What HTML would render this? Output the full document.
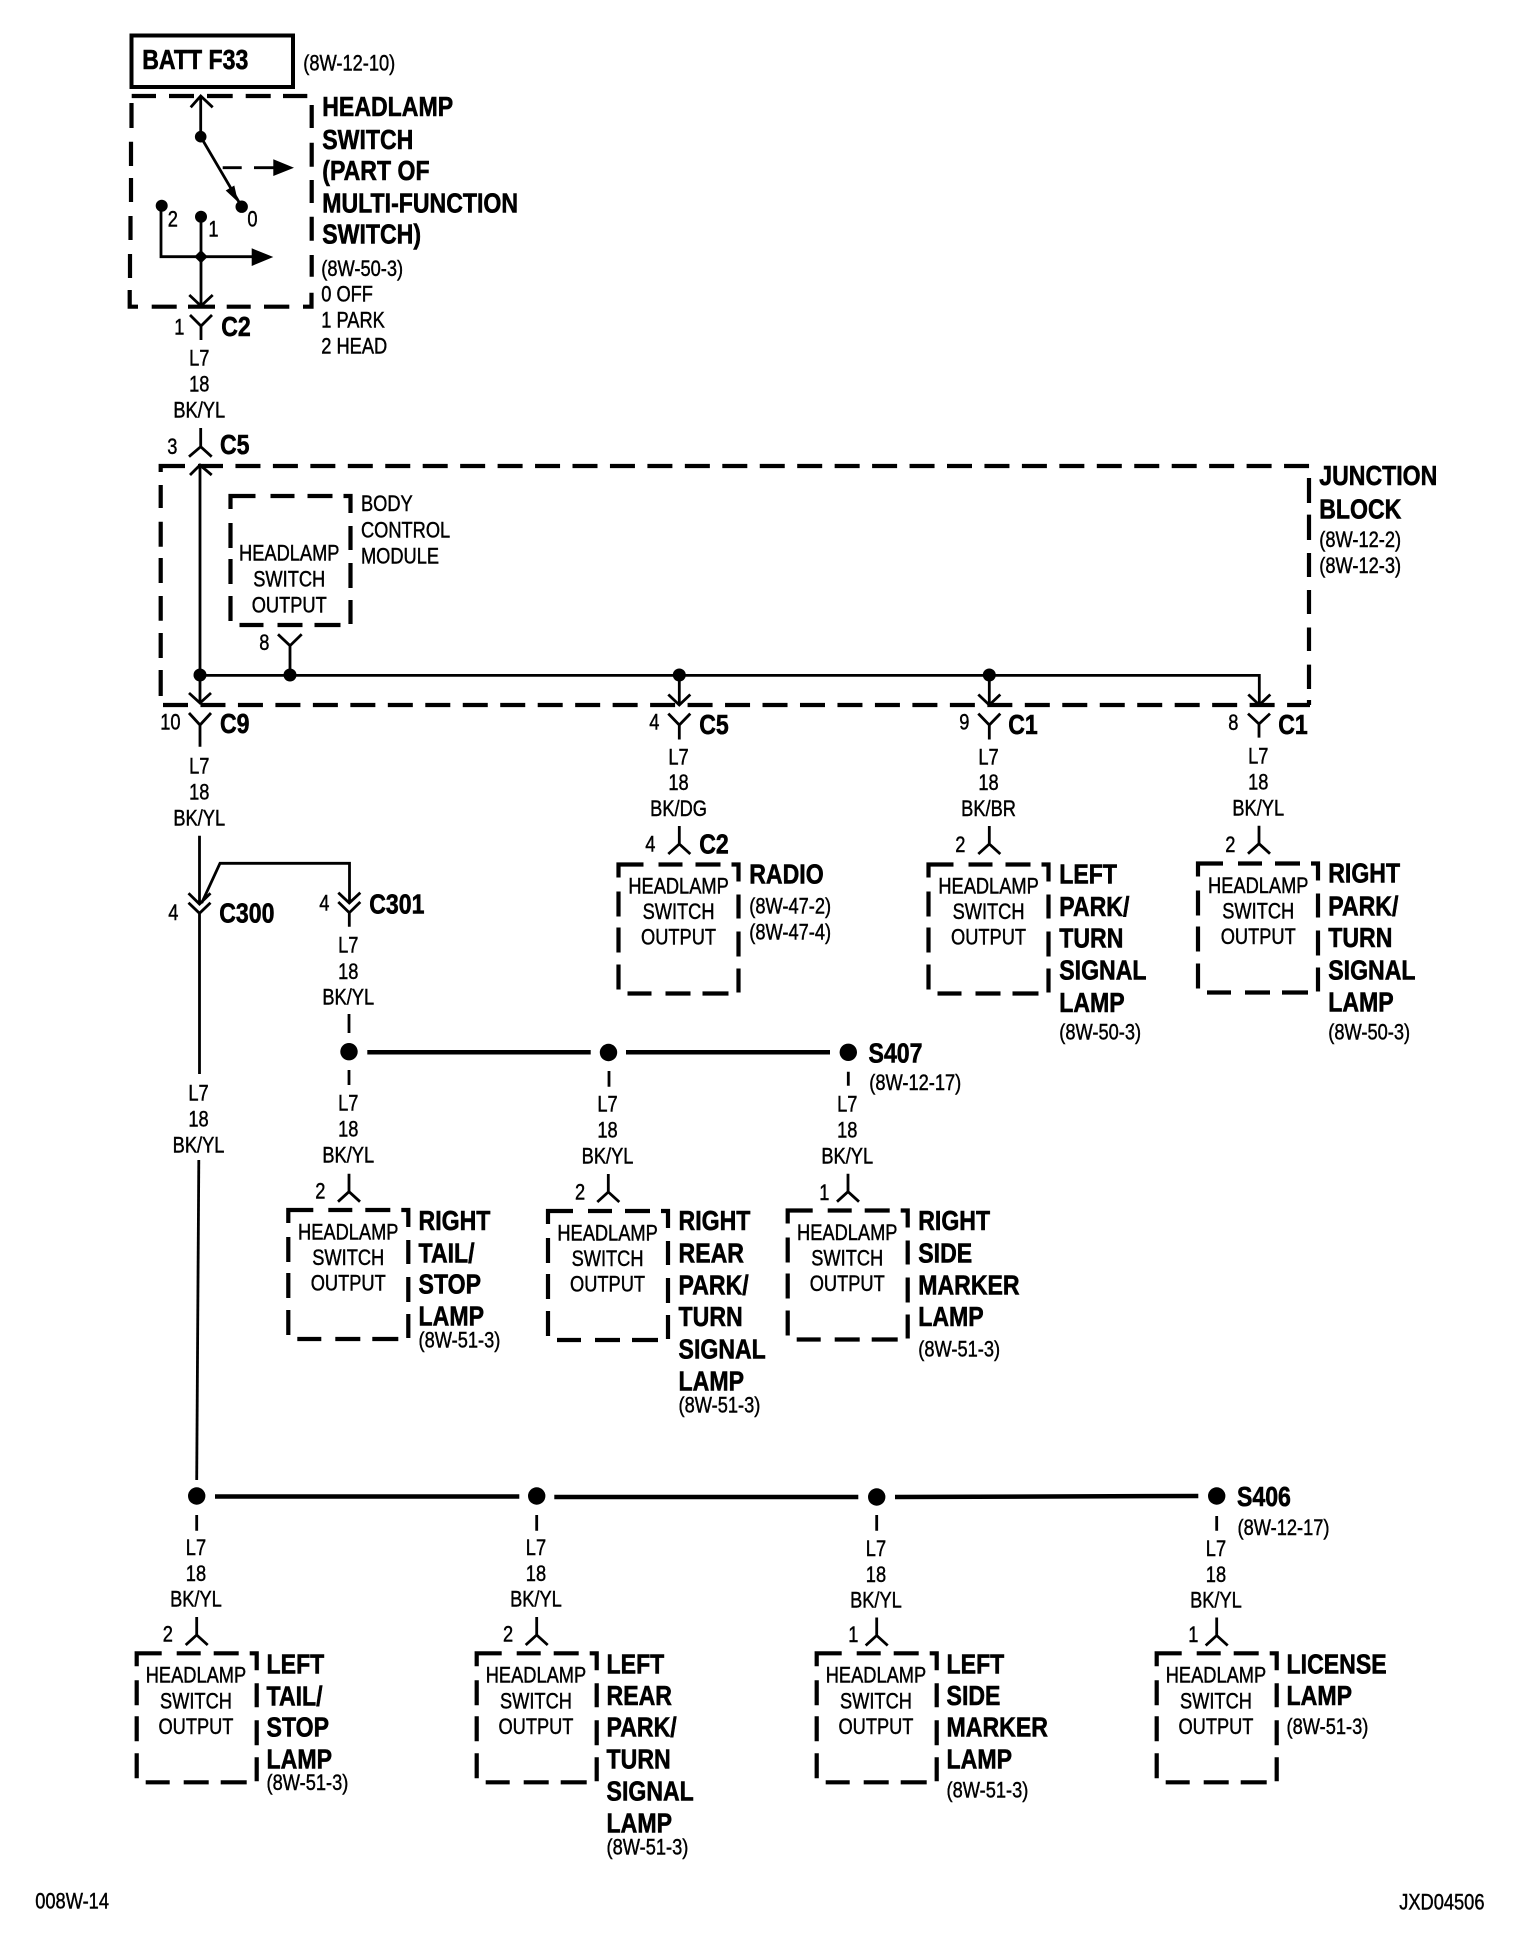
<!DOCTYPE html>
<html>
<head>
<meta charset="utf-8">
<title>Headlamp Switch Output Wiring Diagram</title>
<style>
html,body{margin:0;padding:0;background:#fff}
svg{display:block}
text{fill:#000;stroke:#000;transform:translateX(-.9px)}
.r{font-family:"Liberation Sans",sans-serif;font-size:22px;stroke-width:.45px}
.b{font-family:"Liberation Sans",sans-serif;font-size:28px;font-weight:bold;stroke-width:.6px}
.c{text-anchor:middle}
.w{fill:none;stroke:#000;stroke-width:2.8}
.h{fill:none;stroke:#000;stroke-width:4.5}
.d{fill:none;stroke:#000;stroke-width:4.2}
</style>
</head>
<body>
<svg xmlns="http://www.w3.org/2000/svg" width="1536" height="1936" viewBox="0 0 1536 1936">
<defs>
<path id="box" class="d" d="M-60,13V0H-35M-20,0H4M17,0H42M53,0H60V17M60,30V54M60,67V92M60,104V128M-51,129H-27M-13,129H12M24,129H50M-60,27V52M-60,63V88M-60,100V125"/>
<path id="conn" class="w" d="M0,-18V0M-11,10L0,0L11,10"/>
</defs>
<rect width="1536" height="1936" fill="#fff"/>

<!-- BATT -->
<rect x="131.5" y="35.5" width="161.5" height="51.5" fill="none" stroke="#000" stroke-width="4"/>
<g class="b" transform="translate(143,0) scale(.825,1)"><text y="69">BATT F33</text></g>
<g class="r" transform="translate(304,0) scale(.83,1)"><text y="70.7">(8W-12-10)</text></g>

<!-- Switch -->
<path class="d" d="M131.7,96H156M169,96H194M207,96H232.7M245.7,96H270.7M283,96H307.3M131.5,103V128M131,141.7V166M131,178V202M130.5,216V240M130,254V278M129.7,290V306.7H138M151.7,306.7H176.7M188,306.7H215M226.7,306.7H250.7M264,306.7H289.3M303,306.7H311.5V292.7M311.7,276.7V255M311.7,240.7V216.7M311.7,203V180M311.7,166.7V142.7M311.7,128V105"/>
<path class="w" d="M190.7,107.3L200.7,96L212.7,107.3M200.7,96V136.7L241.7,206.7M222.7,167.7H241.7M254,167.7H275M161,205.7V256.7H255M201,216.7V306M189.3,295L201,306L212.7,295"/>
<circle cx="200.7" cy="136.7" r="5.8"/><circle cx="241.7" cy="206.7" r="6.2"/><circle cx="161.7" cy="205.7" r="6"/><circle cx="201" cy="216.7" r="6"/>
<path d="M201,250L207.7,256.7L201,263.4L194.3,256.7Z"/>
<path d="M238,202L225.7,190.5L234.3,185.5Z"/>
<path d="M273.3,159.3L294,167.7L273.3,176ZM251.7,248.3L273.3,257L251.7,266Z"/>
<g class="r" transform="scale(.83,1)"><text x="203" y="226.7">2</text><text x="252" y="236.7">1</text><text x="299" y="226.7">0</text></g>
<g class="b" transform="translate(323,0) scale(.825,1)"><text y="116">HEADLAMP</text><text y="149">SWITCH</text><text y="180">(PART OF</text><text y="212.7">MULTI-FUNCTION</text><text y="243.3">SWITCH)</text></g>
<g class="r" transform="translate(322,0) scale(.83,1)"><text y="276">(8W-50-3)</text><text y="301.7">0 OFF</text><text y="327.7">1 PARK</text><text y="353.3">2 HEAD</text></g>

<!-- C2 top -->
<path class="w" d="M190,315L201,326L212,315M201,326V340"/>
<g class="r" transform="translate(175,0) scale(.83,1)"><text y="334.3">1</text></g>
<g class="b" transform="translate(222,0) scale(.825,1)"><text y="336">C2</text></g>
<g class="r c" transform="translate(200,0) scale(.83,1)"><text y="365.7">L7</text><text y="391.7">18</text><text y="417.3">BK/YL</text></g>

<!-- C5 top -->
<path class="w" d="M200.7,428V446.7M189,456.7L200.7,446.7L211.7,456.7"/>
<g class="r" transform="translate(168,0) scale(.83,1)"><text y="454">3</text></g>
<g class="b" transform="translate(220.7,0) scale(.825,1)"><text y="454">C5</text></g>

<!-- Junction block -->
<path class="d" stroke-dasharray="25 12.45" d="M198,466H1310"/>
<path class="d" d="M185,466H160.7V472M160.7,485V508M160.7,521.7V546.7M160.7,558V583M160.7,596V620.7M160.7,633V658M160.7,670V696"/>
<path class="d" stroke-dasharray="25 12.47" d="M163,705H1310"/>
<path class="d" d="M1309,478V503M1309,514.6V540M1309,553V577M1309,590V614M1309,627.5V651M1309,664.6V689M1309,700V705"/>
<g class="b" transform="translate(1320,0) scale(.825,1)"><text y="485">JUNCTION</text><text y="518.5">BLOCK</text></g>
<g class="r" transform="translate(1320,0) scale(.83,1)"><text y="547">(8W-12-2)</text><text y="573">(8W-12-3)</text></g>

<!-- Bus in junction -->
<path class="w" d="M190,475L200,465L211.7,475M200,465V703M189,693L200,703L211,693M200,675.4H1259.3V704M668.3,694.5L679.3,705L690.3,694.5M679.3,675V705M978.3,694.5L989.3,705L1000.3,694.5M989.3,675V705M1248.3,694.5L1259.3,705L1270.3,694.5"/>
<circle cx="200" cy="675" r="6.5"/><circle cx="290" cy="675" r="6.5"/><circle cx="679.3" cy="675" r="6.5"/><circle cx="989.3" cy="675" r="6.5"/>

<!-- BCM -->
<use href="#box" x="290.5" y="496"/>
<g class="r c" transform="translate(290,0) scale(.83,1)"><text y="560.7">HEADLAMP</text><text y="586.7">SWITCH</text><text y="612.7">OUTPUT</text></g>
<g class="r" transform="translate(361.7,0) scale(.83,1)"><text y="511">BODY</text><text y="537.3">CONTROL</text><text y="563.3">MODULE</text></g>
<path class="w" d="M278,634.3L290,645.7L301.7,634.3M290,645.7V675"/>
<g class="r" transform="translate(260,0) scale(.83,1)"><text y="650">8</text></g>

<!-- C9 -->
<path class="w" d="M189,713L200,725L211,713M200,725V746.7"/>
<g class="r" transform="translate(161,0) scale(.83,1)"><text y="729.3">10</text></g>
<g class="b" transform="translate(220.7,0) scale(.825,1)"><text y="733">C9</text></g>
<g class="r c" transform="translate(200,0) scale(.83,1)"><text y="773.3">L7</text><text y="799.3">18</text><text y="825.7">BK/YL</text></g>

<!-- C5 / C2 Radio -->
<path class="w" d="M668.3,713.6L679.3,725L690.3,713.6M679.3,725V739.5"/>
<g class="r" transform="translate(650,0) scale(.83,1)"><text y="729.7">4</text></g>
<g class="b" transform="translate(700,0) scale(.825,1)"><text y="734">C5</text></g>
<g class="r c" transform="translate(679.3,0) scale(.83,1)"><text y="764.5">L7</text><text y="790">18</text><text y="816">BK/DG</text></g>
<use href="#conn" x="679.3" y="844"/>
<g class="r" transform="translate(646,0) scale(.83,1)"><text y="851.5">4</text></g>
<g class="b" transform="translate(700,0) scale(.825,1)"><text y="853.5">C2</text></g>
<use href="#box" x="678.5" y="864.5"/>
<g class="r c" transform="translate(679.3,0) scale(.83,1)"><text y="893.5">HEADLAMP</text><text y="919">SWITCH</text><text y="944.5">OUTPUT</text></g>
<g class="b" transform="translate(750,0) scale(.825,1)"><text y="883.5">RADIO</text></g>
<g class="r" transform="translate(750,0) scale(.83,1)"><text y="913.6">(8W-47-2)</text><text y="939.6">(8W-47-4)</text></g>

<!-- C1 / Left Park -->
<path class="w" d="M978.3,713.6L989.3,725L1000.3,713.6M989.3,725V739.5"/>
<g class="r" transform="translate(960,0) scale(.83,1)"><text y="729.7">9</text></g>
<g class="b" transform="translate(1009,0) scale(.825,1)"><text y="734">C1</text></g>
<g class="r c" transform="translate(989.3,0) scale(.83,1)"><text y="764.5">L7</text><text y="790">18</text><text y="816">BK/BR</text></g>
<use href="#conn" x="989.3" y="844"/>
<g class="r" transform="translate(956,0) scale(.83,1)"><text y="852">2</text></g>
<use href="#box" x="988.5" y="864.5"/>
<g class="r c" transform="translate(989.3,0) scale(.83,1)"><text y="893.5">HEADLAMP</text><text y="919">SWITCH</text><text y="944.5">OUTPUT</text></g>
<g class="b" transform="translate(1060,0) scale(.825,1)"><text y="883.5">LEFT</text><text y="916">PARK/</text><text y="947.5">TURN</text><text y="979.6">SIGNAL</text><text y="1012">LAMP</text></g>
<g class="r" transform="translate(1060,0) scale(.83,1)"><text y="1039.5">(8W-50-3)</text></g>

<!-- C1 / Right Park -->
<path class="w" d="M1248,713.6L1259,724L1270,713.6M1259,724V737.6"/>
<g class="r" transform="translate(1229,0) scale(.83,1)"><text y="730">8</text></g>
<g class="b" transform="translate(1279,0) scale(.825,1)"><text y="734">C1</text></g>
<g class="r c" transform="translate(1259,0) scale(.83,1)"><text y="763.4">L7</text><text y="789.5">18</text><text y="815.5">BK/YL</text></g>
<use href="#conn" x="1259" y="843.7"/>
<g class="r" transform="translate(1226,0) scale(.83,1)"><text y="852">2</text></g>
<use href="#box" x="1258" y="863.5"/>
<g class="r c" transform="translate(1259,0) scale(.83,1)"><text y="893">HEADLAMP</text><text y="918.5">SWITCH</text><text y="944">OUTPUT</text></g>
<g class="b" transform="translate(1329,0) scale(.825,1)"><text y="882.5">RIGHT</text><text y="915.5">PARK/</text><text y="947">TURN</text><text y="979.6">SIGNAL</text><text y="1011.5">LAMP</text></g>
<g class="r" transform="translate(1329,0) scale(.83,1)"><text y="1039.5">(8W-50-3)</text></g>

<!-- C300 / C301 -->
<path class="w" d="M199.5,835.7V904M201.7,903L220,863.3H349.5V903M188.5,893.3L199.5,904L210.5,893.3M188.5,902.7L199.5,913.3L210.5,902.7M199.5,913.3V1074M338.3,892.7L349.3,903L360.3,892.7M338.3,902L349.3,912.7L360.3,902M349.3,912.7V926.7"/>
<g class="r" transform="translate(169,0) scale(.83,1)"><text y="920">4</text></g>
<g class="b" transform="translate(220,0) scale(.825,1)"><text y="922.3">C300</text></g>
<g class="r" transform="translate(320,0) scale(.83,1)"><text y="910.7">4</text></g>
<g class="b" transform="translate(370,0) scale(.825,1)"><text y="913.3">C301</text></g>
<g class="r c" transform="translate(349,0) scale(.83,1)"><text y="952.7">L7</text><text y="979">18</text><text y="1004.3">BK/YL</text></g>
<g class="r c" transform="translate(199.3,0) scale(.83,1)"><text y="1100.7">L7</text><text y="1126.7">18</text><text y="1152.3">BK/YL</text></g>
<path class="w" d="M198.8,1160L196.7,1480"/>

<!-- S407 -->
<path class="w" d="M349,1014V1033M349,1070V1085M609,1071V1086.7M848.3,1071.7V1085.7"/>
<path class="h" d="M367.3,1052.3H590.7M626,1052.3H830"/>
<circle cx="349" cy="1051.7" r="8.7"/><circle cx="608.5" cy="1052.5" r="8.7"/><circle cx="848.3" cy="1052.3" r="8.7"/>
<g class="b" transform="translate(869.3,0) scale(.825,1)"><text y="1062.3">S407</text></g>
<g class="r" transform="translate(870,0) scale(.83,1)"><text y="1090">(8W-12-17)</text></g>

<!-- Right Tail -->
<g class="r c" transform="translate(349,0) scale(.83,1)"><text y="1110.7">L7</text><text y="1136.7">18</text><text y="1162.3">BK/YL</text></g>
<use href="#conn" x="349" y="1191.7"/>
<g class="r" transform="translate(316,0) scale(.83,1)"><text y="1198.3">2</text></g>
<use href="#box" x="348.3" y="1210"/>
<g class="r c" transform="translate(349,0) scale(.83,1)"><text y="1239.5">HEADLAMP</text><text y="1265">SWITCH</text><text y="1290.7">OUTPUT</text></g>
<g class="b" transform="translate(419.3,0) scale(.825,1)"><text y="1230">RIGHT</text><text y="1262.7">TAIL/</text><text y="1293.3">STOP</text><text y="1325.7">LAMP</text></g>
<g class="r" transform="translate(419.3,0) scale(.83,1)"><text y="1347.3">(8W-51-3)</text></g>

<!-- Right Rear -->
<g class="r c" transform="translate(608.3,0) scale(.83,1)"><text y="1111.7">L7</text><text y="1137.7">18</text><text y="1163.3">BK/YL</text></g>
<use href="#conn" x="608.3" y="1192"/>
<g class="r" transform="translate(575.7,0) scale(.83,1)"><text y="1199.3">2</text></g>
<use href="#box" x="608" y="1211"/>
<g class="r c" transform="translate(608.3,0) scale(.83,1)"><text y="1240.5">HEADLAMP</text><text y="1266">SWITCH</text><text y="1291.7">OUTPUT</text></g>
<g class="b" transform="translate(679.3,0) scale(.825,1)"><text y="1230">RIGHT</text><text y="1262.3">REAR</text><text y="1294.3">PARK/</text><text y="1326">TURN</text><text y="1358.3">SIGNAL</text><text y="1390.7">LAMP</text></g>
<g class="r" transform="translate(679.3,0) scale(.83,1)"><text y="1412.7">(8W-51-3)</text></g>

<!-- Right Side -->
<g class="r c" transform="translate(848,0) scale(.83,1)"><text y="1111.7">L7</text><text y="1137.7">18</text><text y="1163.3">BK/YL</text></g>
<use href="#conn" x="848" y="1191.7"/>
<g class="r" transform="translate(820,0) scale(.83,1)"><text y="1200">1</text></g>
<use href="#box" x="847.7" y="1210.5"/>
<g class="r c" transform="translate(848,0) scale(.83,1)"><text y="1240">HEADLAMP</text><text y="1265.5">SWITCH</text><text y="1291">OUTPUT</text></g>
<g class="b" transform="translate(919,0) scale(.825,1)"><text y="1230">RIGHT</text><text y="1262.3">SIDE</text><text y="1294.3">MARKER</text><text y="1326">LAMP</text></g>
<g class="r" transform="translate(919,0) scale(.83,1)"><text y="1356.7">(8W-51-3)</text></g>

<!-- S406 -->
<path class="h" d="M215,1496.5H519.3M554.3,1497H858.3M895,1497L1198.3,1496"/>
<circle cx="196.7" cy="1496" r="8.7"/><circle cx="536.7" cy="1496" r="8.7"/><circle cx="876.7" cy="1497" r="8.7"/><circle cx="1216.7" cy="1496" r="8.7"/>
<path class="w" d="M196.7,1515V1530.7M536.7,1515V1530.7M876.7,1515V1530.7M1216.7,1516V1530.7"/>
<g class="b" transform="translate(1237.7,0) scale(.825,1)"><text y="1506">S406</text></g>
<g class="r" transform="translate(1238.3,0) scale(.83,1)"><text y="1535">(8W-12-17)</text></g>

<!-- Left Tail -->
<g class="r c" transform="translate(196.7,0) scale(.83,1)"><text y="1555">L7</text><text y="1581">18</text><text y="1606.7">BK/YL</text></g>
<use href="#conn" x="196.7" y="1635"/>
<g class="r" transform="translate(163.5,0) scale(.83,1)"><text y="1641.7">2</text></g>
<use href="#box" x="196.7" y="1653.3"/>
<g class="r c" transform="translate(196.7,0) scale(.83,1)"><text y="1682.7">HEADLAMP</text><text y="1708.3">SWITCH</text><text y="1734">OUTPUT</text></g>
<g class="b" transform="translate(267.3,0) scale(.825,1)"><text y="1673.3">LEFT</text><text y="1705.7">TAIL/</text><text y="1736.7">STOP</text><text y="1768.3">LAMP</text></g>
<g class="r" transform="translate(267.3,0) scale(.83,1)"><text y="1790">(8W-51-3)</text></g>

<!-- Left Rear -->
<g class="r c" transform="translate(536.7,0) scale(.83,1)"><text y="1555">L7</text><text y="1581">18</text><text y="1606.7">BK/YL</text></g>
<use href="#conn" x="536.7" y="1635"/>
<g class="r" transform="translate(503.7,0) scale(.83,1)"><text y="1641.7">2</text></g>
<use href="#box" x="536.7" y="1653.3"/>
<g class="r c" transform="translate(536.7,0) scale(.83,1)"><text y="1682.7">HEADLAMP</text><text y="1708.3">SWITCH</text><text y="1734">OUTPUT</text></g>
<g class="b" transform="translate(607.3,0) scale(.825,1)"><text y="1673.3">LEFT</text><text y="1705">REAR</text><text y="1736.7">PARK/</text><text y="1768.3">TURN</text><text y="1800.7">SIGNAL</text><text y="1832.7">LAMP</text></g>
<g class="r" transform="translate(607.3,0) scale(.83,1)"><text y="1854.3">(8W-51-3)</text></g>

<!-- Left Side -->
<g class="r c" transform="translate(876.7,0) scale(.83,1)"><text y="1556">L7</text><text y="1582">18</text><text y="1607.7">BK/YL</text></g>
<use href="#conn" x="876.7" y="1635.5"/>
<g class="r" transform="translate(849,0) scale(.83,1)"><text y="1642">1</text></g>
<use href="#box" x="876.7" y="1653.3"/>
<g class="r c" transform="translate(876.7,0) scale(.83,1)"><text y="1682.7">HEADLAMP</text><text y="1708.3">SWITCH</text><text y="1734">OUTPUT</text></g>
<g class="b" transform="translate(947.3,0) scale(.825,1)"><text y="1673.3">LEFT</text><text y="1705">SIDE</text><text y="1736.7">MARKER</text><text y="1768.3">LAMP</text></g>
<g class="r" transform="translate(947.3,0) scale(.83,1)"><text y="1797.3">(8W-51-3)</text></g>

<!-- License -->
<g class="r c" transform="translate(1216.7,0) scale(.83,1)"><text y="1556">L7</text><text y="1582">18</text><text y="1607.7">BK/YL</text></g>
<use href="#conn" x="1216.7" y="1635.5"/>
<g class="r" transform="translate(1189,0) scale(.83,1)"><text y="1642">1</text></g>
<use href="#box" x="1216.7" y="1653.3"/>
<g class="r c" transform="translate(1216.7,0) scale(.83,1)"><text y="1682.7">HEADLAMP</text><text y="1708.3">SWITCH</text><text y="1734">OUTPUT</text></g>
<g class="b" transform="translate(1287.3,0) scale(.825,1)"><text y="1673.3">LICENSE</text><text y="1705">LAMP</text></g>
<g class="r" transform="translate(1287.3,0) scale(.83,1)"><text y="1734">(8W-51-3)</text></g>

<!-- Footer -->
<g class="r" transform="translate(36,0) scale(.83,1)"><text y="1908.3">008W-14</text></g>
<g class="r" transform="translate(1400,0) scale(.83,1)"><text y="1909.3">JXD04506</text></g>
</svg>
</body>
</html>
